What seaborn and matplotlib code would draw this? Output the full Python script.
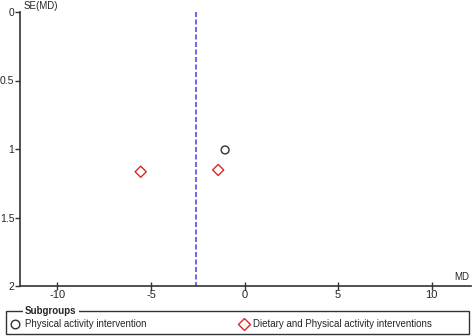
import matplotlib
matplotlib.use("Agg")
import matplotlib.pyplot as plt
from matplotlib.lines import Line2D
from matplotlib.patches import Rectangle
import seaborn as sns
import pandas as pd

groups = ["Physical activity intervention",
          "Dietary and Physical activity interventions",
          "Dietary and Physical activity interventions"]
md_values = [-1.04, -5.55, -1.41]
se_values = [1.007, 1.166, 1.153]
pooled_md = -2.6
x_ticks = [-10, -5, 0, 5, 10]
y_ticks = [0, 0.5, 1, 1.5, 2]
group_names = ["Physical activity intervention",
               "Dietary and Physical activity interventions"]
group_markers = ["o", "D"]
group_colors = ["#333333", "#d42a2a"]
group_sizes = [32, 32]

sns.set_theme(style="white")
plt.rcParams["font.family"] = ["Liberation Sans", "DejaVu Sans"]

df = pd.DataFrame({"MD": md_values, "SE": se_values, "group": groups})

fig = plt.figure(figsize=(4.72, 3.36), dpi=100)
ax = fig.add_axes([20 / 472, 1 - 286 / 336, 451 / 472, 274 / 336])

for name, mk, col, sz in zip(group_names, group_markers, group_colors, group_sizes):
    sub = df[df["group"] == name]
    sns.scatterplot(data=sub, x="MD", y="SE", marker=mk, s=sz, ax=ax,
                    facecolor="none", edgecolor=col, linewidth=1.0, legend=False)

sns.lineplot(x=[pooled_md, pooled_md], y=[0, 2], ax=ax, color="#6e6ee6",
             linewidth=1.5, dashes=(2.4, 1.2), estimator=None, sort=False)

ax.set_xlim(-12, 12.1)
ax.set_ylim(2, 0)
ax.set_xticks(x_ticks)
ax.set_yticks(y_ticks)
ax.set_xticklabels([str(t) for t in x_ticks])
ax.set_yticklabels(["0", "0.5", "1", "1.5", "2"])
ax.set_xlabel("")
ax.set_ylabel("")
for s in ["top", "right"]:
    ax.spines[s].set_visible(False)
for s in ["left", "bottom"]:
    ax.spines[s].set_color("#333333")
    ax.spines[s].set_linewidth(1.2)
ax.tick_params(axis="y", direction="out", length=3.5, width=1, color="#333333",
               labelsize=7.5, pad=0.5, left=True)
ax.tick_params(axis="x", direction="inout", length=6, width=1, color="#333333",
               labelsize=8, pad=0, bottom=True)
ax.grid(False)

fig.text(24 / 472, 1 - 6 / 336, "SE(MD)", fontsize=7, ha="left", va="center")
fig.text(469 / 472, 1 - 277 / 336, "MD", fontsize=7, ha="right", va="center")

# legend frame (group box)
fig.patches.append(Rectangle((6 / 472, 1 - 334 / 336), 463 / 472, 23 / 336,
                             transform=fig.transFigure, fill=False,
                             edgecolor="#333333", linewidth=1.0))

handles = [Line2D([], [], linestyle="none", marker=m, markersize=6.2 if m == "o" else 5.8,
                  markerfacecolor="none", markeredgecolor=c, markeredgewidth=1.0)
           for m, c in zip(group_markers, group_colors)]
leg = fig.legend(handles, group_names, ncol=2,
                 bbox_to_anchor=(11 / 472, 1 - 324 / 336),
                 loc="center left", fontsize=7, frameon=False,
                 handlelength=0.8, handletextpad=0.62, borderpad=0,
                 borderaxespad=0, columnspacing=9.6)
fig.text(25 / 472, 1 - 311 / 336, "Subgroups", fontsize=7, fontweight="bold",
         ha="left", va="center",
         bbox=dict(facecolor="white", edgecolor="none", pad=1.5))

fig.savefig("out.png", dpi=100, facecolor="white")
